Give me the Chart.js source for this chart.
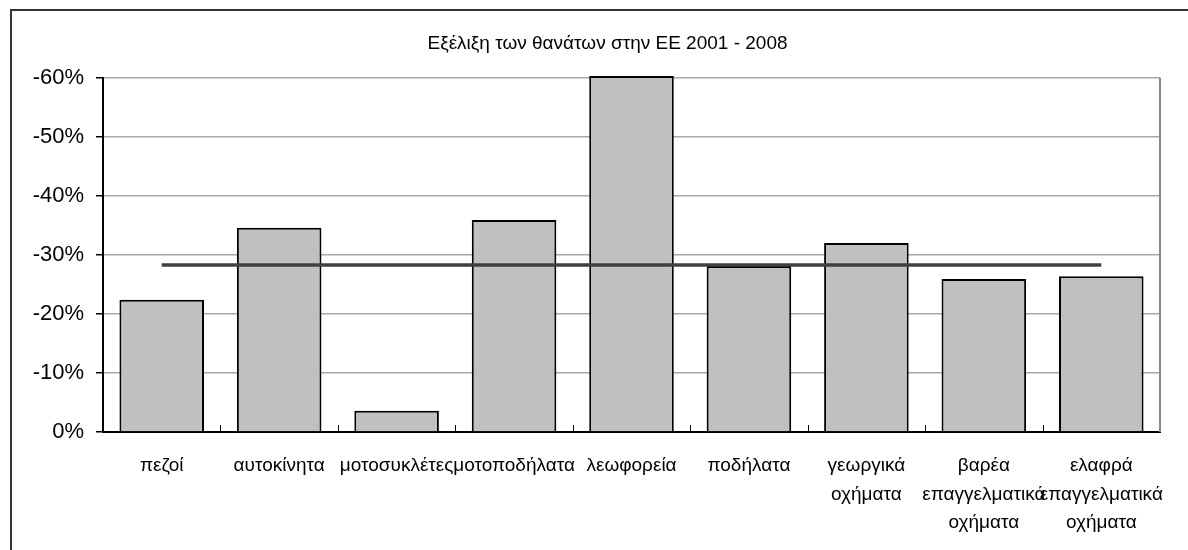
<!DOCTYPE html>
<html>
<head>
<meta charset="utf-8">
<script src="https://cdn.jsdelivr.net/npm/chart.js@4/dist/chart.umd.min.js"></script>
<style>
  html, body { margin: 0; padding: 0; background: #fff; overflow: hidden; }
  #frame {
    position: absolute; left: 10px; top: 9px; width: 1300px; height: 700px;
    border-left: 2px solid #333; border-top: 2px solid #333;
  }
  #wrap { position: absolute; left: 0; top: 0; width: 1188px; height: 550px; }
</style>
</head>
<body>
<div id="frame"></div>
<div id="wrap"><canvas id="chart" width="1188" height="550"></canvas></div>
<script>
const categories = [
  "πεζοί",
  "αυτοκίνητα",
  "μοτοσυκλέτες",
  "μοτοποδήλατα",
  "λεωφορεία",
  "ποδήλατα",
  ["γεωργικά", "οχήματα"],
  ["βαρέα", "επαγγελματικά", "οχήματα"],
  ["ελαφρά", "επαγγελματικά", "οχήματα"]
]
const deathChange = [-22.4, -34.6, -3.6, -35.9, -60.3, -28.1, -32.0, -25.9, -26.4]
const averageChange = [-28.3, -28.3, -28.3, -28.3, -28.3, -28.3, -28.3, -28.3, -28.3]
const yTicks = [0, -10, -20, -30, -40, -50, -60]

const FONT = "'Liberation Sans', Arial, sans-serif"

// inward tick marks between categories + grey right edge of the plot
const extras = {
  id: "extras",
  afterLayout(chart) {
    // centre the title a bit further right, like the original
    if (chart.titleBlock) chart.titleBlock.left += 55
  },
  afterDatasetsDraw(chart) {
    const { ctx, chartArea, scales } = chart
    const x = scales.x
    ctx.save()
    ctx.strokeStyle = "#888"
    ctx.lineWidth = 2
    ctx.beginPath()
    ctx.moveTo(chartArea.right, chartArea.top)
    ctx.lineTo(chartArea.right, chartArea.bottom)
    ctx.stroke()
    ctx.strokeStyle = "#000"
    ctx.lineWidth = 1
    for (let i = 1; i < categories.length; i++) {
      const px = Math.round((x.getPixelForValue(i - 1) + x.getPixelForValue(i)) / 2) + 0.5
      ctx.beginPath()
      ctx.moveTo(px, chartArea.bottom)
      ctx.lineTo(px, chartArea.bottom - 7)
      ctx.stroke()
    }
    ctx.restore()
  }
}

const c = document.querySelector("#chart").getContext("2d")
new Chart(c, {
  data: {
    labels: categories,
    datasets: [
      {
        type: "line",
        data: averageChange,
        borderColor: "#404040",
        borderWidth: 3.5,
        pointRadius: 0,
        fill: false,
        order: 0
      },
      {
        type: "bar",
        data: deathChange,
        backgroundColor: "#c0c0c0",
        borderColor: "#000",
        borderWidth: 2,
        barPercentage: 0.72,
        categoryPercentage: 1,
        clip: false,
        order: 1
      }
    ]
  },
  options: {
    responsive: false,
    animation: false,
    layout: { padding: { left: 0, right: 28, top: 0, bottom: 0 } },
    plugins: {
      legend: { display: false },
      tooltip: { enabled: false },
      title: {
        display: true,
        text: "Εξέλιξη των θανάτων στην ΕΕ 2001 - 2008",
        color: "#000",
        font: { family: FONT, size: 19, weight: "normal" },
        padding: { top: 32, bottom: 23 }
      }
    },
    scales: {
      x: {
        grid: { display: false, drawTicks: false },
        border: { color: "#000", width: 2 },
        ticks: {
          color: "#000",
          padding: 20,
          maxRotation: 0,
          autoSkip: false,
          font: { family: FONT, size: 19, lineHeight: 1.5 }
        },
        afterFit(scale) { scale.height = 118 }
      },
      y: {
        min: -60,
        max: 0,
        reverse: true,
        afterBuildTicks(scale) { scale.ticks = yTicks.map(v => ({ value: v })) },
        grid: { color: "#a8a8a8", lineWidth: 1.5, tickColor: "#000", tickLength: 7 },
        border: { color: "#000", width: 2 },
        ticks: {
          color: "#000",
          padding: 12,
          font: { family: FONT, size: 22 },
          callback: v => v + "%"
        },
        afterFit(scale) { scale.width = 103 }
      }
    }
  },
  plugins: [extras]
})
</script>
</body>
</html>
